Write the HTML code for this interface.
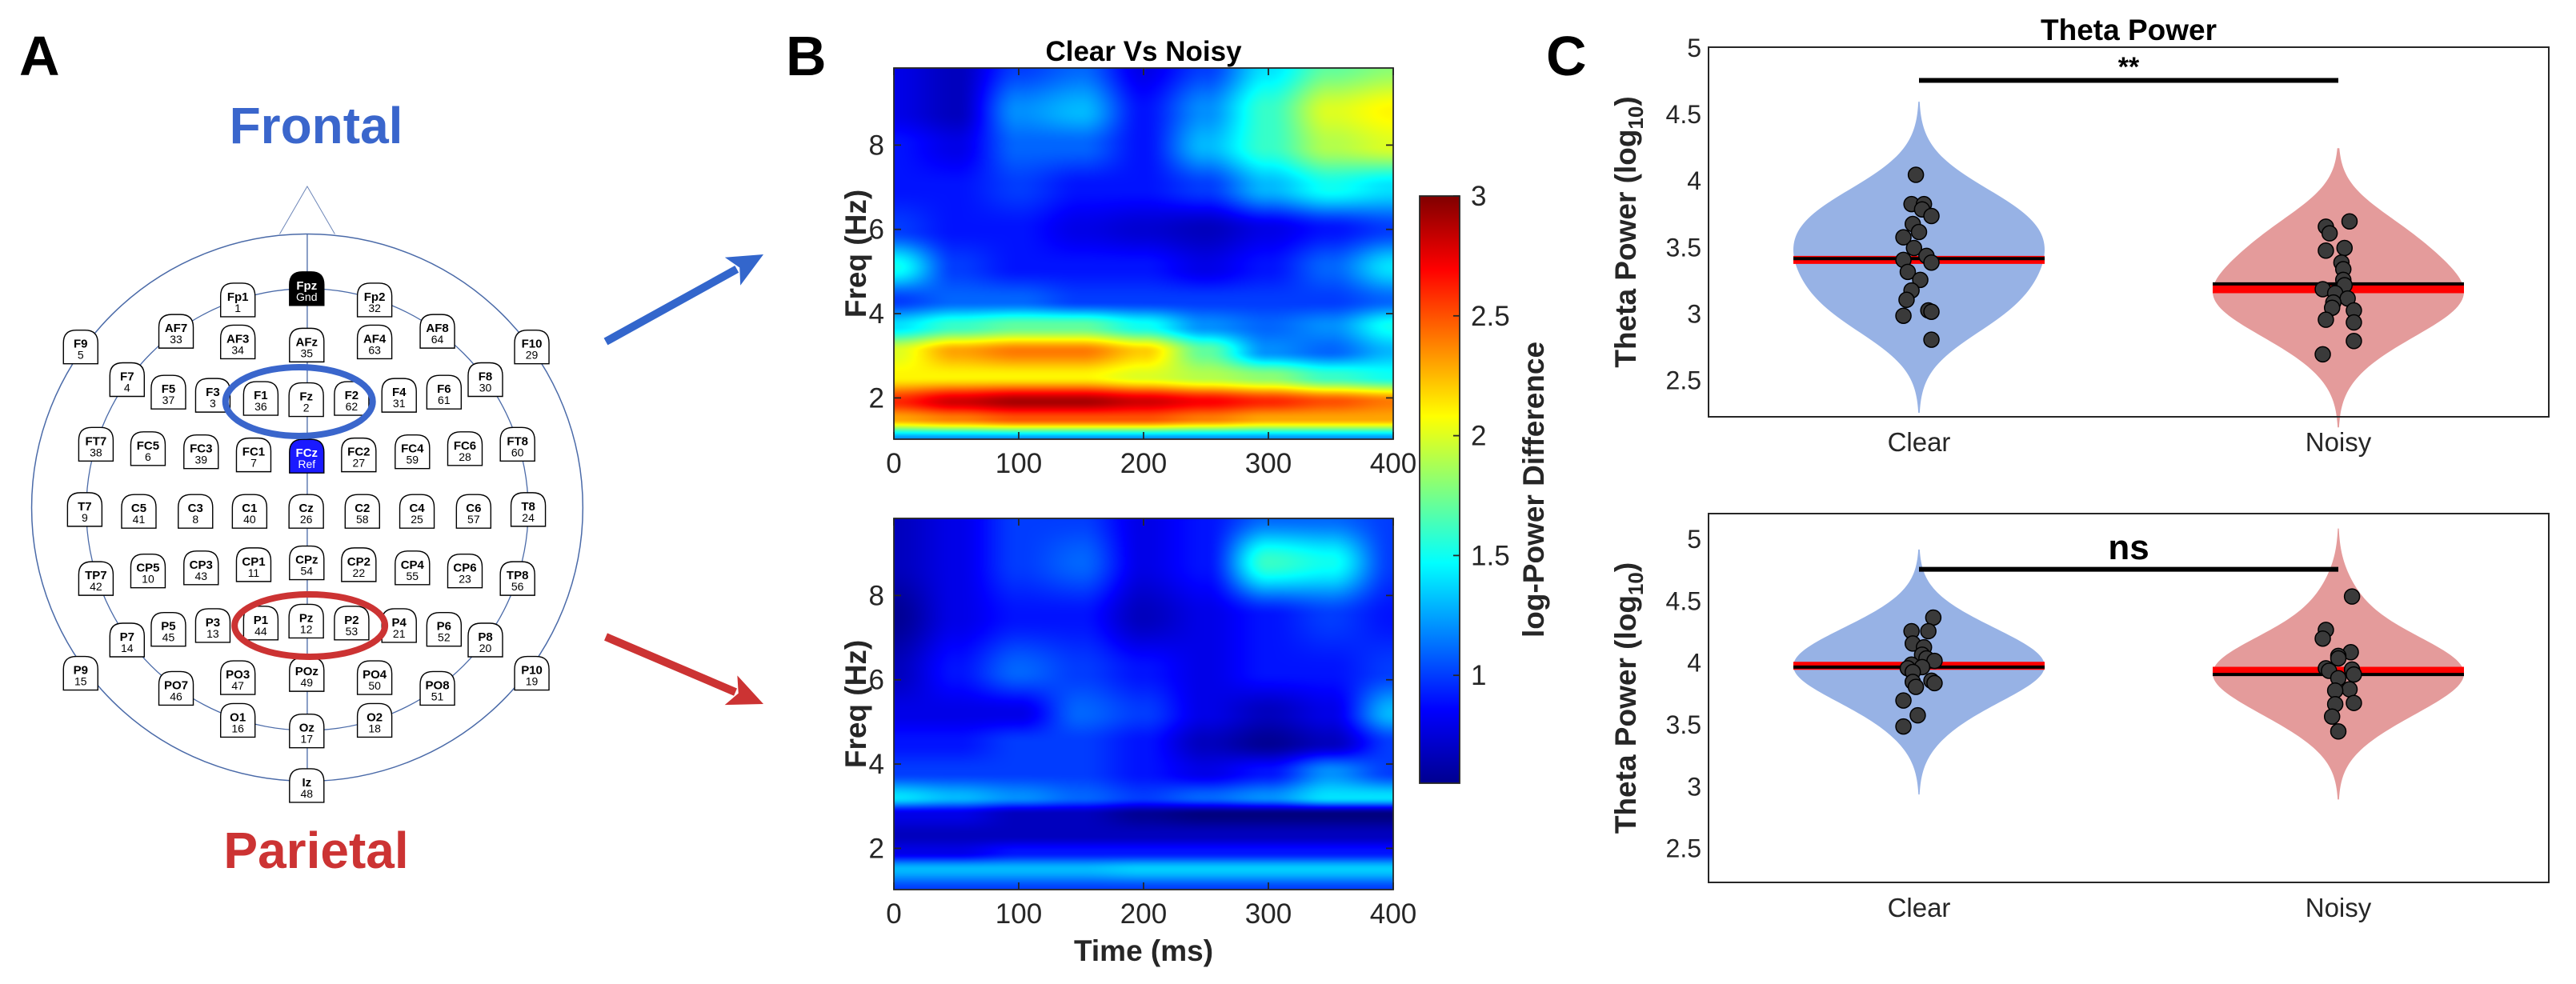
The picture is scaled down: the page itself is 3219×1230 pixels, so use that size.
<!DOCTYPE html>
<html><head><meta charset="utf-8">
<style>
html,body{margin:0;padding:0;background:#fff;}
#root{position:relative;width:3219px;height:1230px;overflow:hidden;font-family:"Liberation Sans",sans-serif;}
svg{position:absolute;left:0;top:0;}
canvas{position:absolute;}
</style></head>
<body>
<div id="root">
<canvas id="hmTop" style="left:1117px;top:85px" width="624" height="464"></canvas>
<canvas id="hmBot" style="left:1117px;top:648px" width="624" height="464"></canvas>
<svg id="svg" width="3219" height="1230" xmlns="http://www.w3.org/2000/svg">
<defs>
<linearGradient id="jet" x1="0" y1="1" x2="0" y2="0">
<stop offset="0" stop-color="#00008f"/><stop offset="0.125" stop-color="#0000ff"/><stop offset="0.375" stop-color="#00ffff"/><stop offset="0.625" stop-color="#ffff00"/><stop offset="0.875" stop-color="#ff0000"/><stop offset="1" stop-color="#800000"/>
</linearGradient>
</defs>
<g id="panelA"></g>
<g id="panelB"></g>
<g id="panelC"></g>
</svg>
</div>
<script>
// ---------- Panel B data ----------
const hmTimes = [0,50,100,150,200,250,300,350,400];
const hmFreqsTop = [1.0,1.5,1.9,2.5,3.1,3.7,4.3,5.1,6,7,8,8.8,9.9];
const hmTopRows = [
[1.2,1.2,1.2,1.2,1.2,1.2,1.2,1.2,1.2],
[2.3,2.4,2.5,2.5,2.5,2.4,2.3,2.3,2.3],
[2.6,2.8,2.9,2.9,2.8,2.7,2.6,2.5,2.4],
[2.1,2.1,2.1,2.1,2.0,1.9,1.8,1.6,1.5],
[2.0,2.3,2.4,2.4,2.2,1.7,1.2,1.1,1.3],
[1.4,1.6,1.7,1.7,1.5,1.2,1.1,1.2,1.5],
[1.0,1.1,1.1,1.0,1.0,1.0,1.0,1.0,1.1],
[1.5,1.0,0.9,0.9,0.9,0.8,0.9,1.1,1.4],
[1.0,0.9,0.9,0.8,0.75,0.7,0.8,0.9,1.0],
[0.9,0.9,1.0,0.9,0.9,1.0,1.3,1.5,1.4],
[0.9,0.8,1.1,1.1,0.9,1.3,1.6,1.9,2.0],
[0.8,0.7,1.2,1.3,0.9,1.2,1.6,2.0,2.1],
[0.8,0.7,1.0,1.1,0.8,1.0,1.4,1.7,1.8]];
const hmFreqsBot = [1.0,1.5,1.9,2.3,2.8,3.2,3.8,4.5,5.2,6.2,7.5,8.8,9.9];
const hmBotRows = [
[1.0,1.0,1.0,1.0,1.0,1.0,1.0,1.0,1.0],
[1.3,1.3,1.3,1.3,1.35,1.35,1.35,1.35,1.35],
[0.8,0.8,0.9,0.9,0.9,0.9,0.9,0.9,0.9],
[0.7,0.7,0.7,0.7,0.7,0.7,0.7,0.7,0.7],
[0.8,0.8,0.7,0.7,0.6,0.55,0.55,0.55,0.55],
[1.4,1.3,1.2,1.1,1.0,1.1,1.2,1.4,1.4],
[1.0,1.0,1.0,1.0,0.9,0.8,0.9,1.2,1.0],
[0.9,0.9,1.0,1.0,0.9,0.7,0.6,0.7,1.0],
[0.8,0.8,0.8,1.1,1.0,0.8,0.7,0.8,1.3],
[0.7,0.9,1.1,1.0,0.9,0.8,0.9,0.9,1.0],
[0.6,0.8,0.9,0.9,0.7,0.8,0.9,1.0,0.9],
[0.7,0.8,1.0,1.1,0.8,0.9,1.6,1.5,1.0],
[0.7,0.8,1.0,1.0,0.8,0.9,1.1,1.1,1.0]];
const timeTicks = [0,100,200,300,400];
const freqTicks = [2,4,6,8];
const cbTicks = [1,1.5,2,2.5,3];

// ---------- Panel C data ----------
const categories = ["Clear","Noisy"];
const yTicksC = [2.5,3,3.5,4,4.5,5];
const clearTop = [4.04,3.82,3.82,3.78,3.73,3.67,3.61,3.57,3.49,3.43,3.40,3.38,3.31,3.25,3.17,3.10,3.02,3.01,2.98,2.80];
const clearTopJit = [-5,-12,8,5,20,-10,0,-25,-8,12,-25,20,-18,2,-12,-20,15,20,-25,20];
const noisyTop = [3.69,3.65,3.60,3.49,3.47,3.38,3.33,3.25,3.21,3.18,3.15,3.11,3.08,3.04,3.02,2.95,2.93,2.79,2.69];
const noisyTopJit = [18,-20,-14,10,-20,5,8,8,10,-25,-5,15,-8,-10,25,-20,25,25,-25];
const clearBot = [4.36,4.25,4.25,4.15,4.12,4.06,4.03,4.01,3.98,3.96,3.95,3.92,3.85,3.84,3.83,3.80,3.69,3.57,3.48];
const clearBotJit = [23,-12,15,-10,8,5,12,25,-12,5,-18,-10,20,-10,25,-5,-25,-2,-25];
const noisyBot = [4.53,4.26,4.19,4.08,4.05,4.03,3.95,3.94,3.93,3.90,3.87,3.78,3.77,3.67,3.66,3.56,3.44];
const noisyBotJit = [22,-20,-25,20,0,0,-20,22,-15,25,0,18,-5,25,-5,-10,0];
const meansTop = [3.40,3.18];   // red
const mediansTop = [3.41,3.22]; // black
const meansBot = [3.97,3.93];
const mediansBot = [3.96,3.90];
const sigBar = [4.75,4.75];
const sigLabels = ["**","ns"];

// ---------- Panel A data ----------
const electrodes = [
["Fpz","Gnd",601,460],["Fp1","1",466,478],["Fp2","32",734,478],
["AF7","33",345,528],["AF3","34",466,545],["AFz","35",601,550],["AF4","63",734,545],["AF8","64",857,528],
["F9","5",158,553],["F10","29",1042,553],
["F7","4",249,605],["F5","37",330,625],["F3","3",417,630],["F1","36",511,635],["Fz","2",600,637],["F2","62",689,635],["F4","31",782,630],["F6","61",870,625],["F8","30",951,605],
["FT7","38",188,708],["FC5","6",290,715],["FC3","39",394,720],["FC1","7",497,725],["FCz","Ref",601,727],["FC2","27",703,725],["FC4","59",808,720],["FC6","28",911,715],["FT8","60",1014,708],
["T7","9",166,812],["C5","41",272,815],["C3","8",383,815],["C1","40",489,815],["Cz","26",600,815],["C2","58",710,815],["C4","25",817,815],["C6","57",928,815],["T8","24",1035,812],
["TP7","42",188,922],["CP5","10",290,910],["CP3","43",394,905],["CP1","11",497,900],["CPz","54",601,897],["CP2","22",703,900],["CP4","55",808,905],["CP6","23",911,910],["TP8","56",1014,922],
["P7","14",249,1020],["P5","45",330,1003],["P3","13",417,997],["P1","44",511,993],["Pz","12",600,990],["P2","53",689,993],["P4","21",782,997],["P6","52",870,1003],["P8","20",951,1020],
["P9","15",158,1073],["P10","19",1042,1073],
["PO7","46",345,1097],["PO3","47",466,1080],["POz","49",601,1075],["PO4","50",734,1080],["PO8","51",857,1097],
["O1","16",466,1148],["Oz","17",601,1165],["O2","18",734,1148],
["Iz","48",601,1252]];

const NS="http://www.w3.org/2000/svg";
function mk(parent, tag, attrs, text){
  const e=document.createElementNS(NS,tag);
  for(const k in attrs) e.setAttribute(k,attrs[k]);
  if(text!==undefined) e.textContent=text;
  parent.appendChild(e); return e;
}
const A=document.getElementById('panelA'), B=document.getElementById('panelB'), C=document.getElementById('panelC');
const SVG=document.getElementById('svg');

// ----- Panel letters
[["A",24,94],["B",982,94],["C",1932,94]].forEach(([t,x,y])=>{
  const e=mk(SVG,'text',{x:x,y:y,'font-size':70,'font-weight':'bold','font-family':'Liberation Sans, sans-serif'},t);
  
  
});

// ----- Panel A
const s=1/1.568, sy=1/1.275;
let t=mk(A,'text',{x:395,y:179,'text-anchor':'middle','font-size':64,'font-weight':'bold',fill:'#3a66cc'},'Frontal');
 
t=mk(A,'text',{x:395,y:1085,'text-anchor':'middle','font-size':64,'font-weight':'bold',fill:'#cc3333'},'Parietal');
 
let h=mk(A,'polyline',{points:`${548*s},${373*sy} ${602*s},${297*sy} ${656*s},${373*sy}`,fill:'none',stroke:'#6d86b8','stroke-width':1});
 
h=mk(A,'ellipse',{cx:602*s,cy:809*sy,rx:540*s,ry:436*sy,fill:'none',stroke:'#4a6aa8','stroke-width':1.5});
 
h=mk(A,'ellipse',{cx:602*s,cy:812*sy,rx:433*s,ry:352*sy,fill:'none',stroke:'#4a6aa8','stroke-width':1.3});
 
h=mk(A,'line',{x1:602*s,y1:373*sy,x2:602*s,y2:1245*sy,stroke:'#4a6aa8','stroke-width':1.3});
 
electrodes.forEach(([lab,num,x,y])=>{
  const cx=x*s, cy=y*sy, w=43, hh=42, r=16;
  const g=mk(A,'g',{});
  
  
  const fill = lab==='Fpz'?'#000':(lab==='FCz'?'#1a1aff':'#fff');
  const tc = (lab==='Fpz'||lab==='FCz')?'#fff':'#000';
  const x0=cx-w/2, y0=cy-hh/2;
  mk(g,'path',{d:`M${x0},${y0+hh} L${x0},${y0+r} Q${x0},${y0} ${x0+r},${y0} L${x0+w-r},${y0} Q${x0+w},${y0} ${x0+w},${y0+r} L${x0+w},${y0+hh} Z`,fill:fill,stroke:'#000','stroke-width':1.4});
  mk(g,'text',{x:cx,y:cy+1,'text-anchor':'middle','font-size':15,'font-weight':'bold',fill:tc},lab);
  mk(g,'text',{x:cx,y:cy+15,'text-anchor':'middle','font-size':14,fill:tc},num);
});
h=mk(A,'ellipse',{cx:586*s,cy:640*sy,rx:92,ry:43,fill:'none',stroke:'#3a66cc','stroke-width':8});
 
h=mk(A,'ellipse',{cx:607*s,cy:997*sy,rx:94,ry:39,fill:'none',stroke:'#cc3333','stroke-width':8});
 
function arrow(x1,y1,x2,y2,col,name){
  const g=mk(A,'g',{});
   
  const ang=Math.atan2(y2-y1,x2-x1), L=44, W=20;
  const bx=x2-L*Math.cos(ang), by=y2-L*Math.sin(ang);
  mk(g,'line',{x1:x1,y1:y1,x2:bx+6*Math.cos(ang),y2:by+6*Math.sin(ang),stroke:col,'stroke-width':10});
  const px=-Math.sin(ang), py=Math.cos(ang);
  mk(g,'polygon',{points:`${x2},${y2} ${bx+px*W},${by+py*W} ${bx+10*Math.cos(ang)},${by+10*Math.sin(ang)} ${bx-px*W},${by-py*W}`,fill:col});
}
arrow(757,427,954,318,'#3366cc','frontal-arrow');
arrow(757,796,954,880,'#cc3333','parietal-arrow');

// ----- Panel B
function jet(v){
  const t=Math.max(0,Math.min(1,(v-0.55)/(3-0.55)));
  const f=(x)=>Math.max(0,Math.min(1,x));
  const r=f(1.5-Math.abs(4*t-3)), g=f(1.5-Math.abs(4*t-2)), b=f(1.5-Math.abs(4*t-1));
  return [r*255,g*255,b*255];
}
const fMin=1.02, fMax=9.83, tMin=0, tMax=400;
function interp(freqs,rows,tm,fr){
  let i=0; while(i<freqs.length-2 && fr>freqs[i+1]) i++;
  let a=(fr-freqs[i])/(freqs[i+1]-freqs[i]); a=Math.max(0,Math.min(1,a));
  a=a*a*(3-2*a);
  let j=0; while(j<hmTimes.length-2 && tm>hmTimes[j+1]) j++;
  let b=(tm-hmTimes[j])/(hmTimes[j+1]-hmTimes[j]); b=Math.max(0,Math.min(1,b));
  b=b*b*(3-2*b);
  const v00=rows[i][j],v01=rows[i][j+1],v10=rows[i+1][j],v11=rows[i+1][j+1];
  return (v00*(1-b)+v01*b)*(1-a)+(v10*(1-b)+v11*b)*a;
}
function drawHM(id,freqs,rows){
  const cv=document.getElementById(id), ctx=cv.getContext('2d');
  const W=cv.width,H=cv.height, img=ctx.createImageData(W,H);
  for(let y=0;y<H;y++){
    const fr=fMax-(y/(H-1))*(fMax-fMin);
    for(let x=0;x<W;x++){
      const tm=tMin+(x/(W-1))*(tMax-tMin);
      const c=jet(interp(freqs,rows,tm,fr));
      const k=(y*W+x)*4; img.data[k]=c[0];img.data[k+1]=c[1];img.data[k+2]=c[2];img.data[k+3]=255;
    }
  }
  ctx.putImageData(img,0,0);
}
drawHM('hmTop',hmFreqsTop,hmTopRows);
drawHM('hmBot',hmFreqsBot,hmBotRows);
const bx0=1117,bx1=1741;
const xT=(v)=>bx0+(v-tMin)/(tMax-tMin)*(bx1-bx0);
function axesB(y0,y1,name){
  const g=mk(B,'g',{});
   
  const yF=(f)=>y1-(f-fMin)/(fMax-fMin)*(y1-y0);
  mk(g,'rect',{x:bx0,y:y0,width:bx1-bx0,height:y1-y0,fill:'none',stroke:'#262626','stroke-width':1.8});
  timeTicks.forEach(v=>{
    mk(g,'line',{x1:xT(v),y1:y1,x2:xT(v),y2:y1-9,stroke:'#262626','stroke-width':1.8});
    mk(g,'line',{x1:xT(v),y1:y0,x2:xT(v),y2:y0+9,stroke:'#262626','stroke-width':1.8});
    const l=mk(g,'text',{x:xT(v),y:y1+42,'text-anchor':'middle','font-size':35,fill:'#262626'},v);
     
  });
  freqTicks.forEach(v=>{
    mk(g,'line',{x1:bx0,y1:yF(v),x2:bx0+9,y2:yF(v),stroke:'#262626','stroke-width':1.8});
    mk(g,'line',{x1:bx1,y1:yF(v),x2:bx1-9,y2:yF(v),stroke:'#262626','stroke-width':1.8});
    const l=mk(g,'text',{x:bx0-12,y:yF(v)+12,'text-anchor':'end','font-size':35,fill:'#262626'},v);
     
  });
  const yl=mk(g,'text',{x:0,y:0,transform:`translate(1082,${(y0+y1)/2}) rotate(-90)`,'text-anchor':'middle','font-size':37,'font-weight':'bold',fill:'#262626'},'Freq (Hz)');
   
}
axesB(85,549,'heatmap-top-axes');
axesB(648,1112,'heatmap-bottom-axes');
t=mk(B,'text',{x:1429,y:76,'text-anchor':'middle','font-size':35,'font-weight':'bold'},'Clear Vs Noisy');
 
t=mk(B,'text',{x:1429,y:1201,'text-anchor':'middle','font-size':37,'font-weight':'bold',fill:'#262626'},'Time (ms)');
 
// colorbar
const cbx=1774,cbw=50,cby0=245,cby1=979,cbMin=0.55,cbMax=3;
const yC=(v)=>cby1-(v-cbMin)/(cbMax-cbMin)*(cby1-cby0);
t=mk(B,'rect',{x:cbx,y:cby0,width:cbw,height:cby1-cby0,fill:'url(#jet)',stroke:'#262626','stroke-width':1.8});
 
cbTicks.forEach(v=>{
  mk(B,'line',{x1:cbx+cbw,y1:yC(v),x2:cbx+cbw-8,y2:yC(v),stroke:'#262626','stroke-width':1.8});
  const l=mk(B,'text',{x:cbx+cbw+14,y:yC(v)+12,'font-size':35,fill:'#262626'},v);
   
});
t=mk(B,'text',{x:0,y:0,transform:'translate(1929,612) rotate(-90)','text-anchor':'middle','font-size':37,'font-weight':'bold',fill:'#262626'},'log-Power Difference');
 

// ----- Panel C
const cx0=2135,cx1=3185;
const catX=[2398,2922];
function kde(vals,y,bw){let s=0;vals.forEach(v=>{const z=(y-v)/bw;s+=Math.exp(-0.5*z*z);});return s;}
function violinPanel(y0,y1,vMin,vMax,datasets,jits,means,meds,name,sig,sigLbl,sigSize,sigY,title){
  const g=mk(C,'g',{});
   
  const yV=(v)=>y1-(v-vMin)/(vMax-vMin)*(y1-y0);
  const cols=['#97b2e5','#e49b9b'];
  datasets.forEach((d,k)=>{
    const bw=0.22, lo=Math.min(...d)-2.5*bw, hi=Math.max(...d)+2.5*bw;
    const N=120, dens=[];
    let mx=0;
    for(let i=0;i<=N;i++){const v=lo+(hi-lo)*i/N; const dv=kde(d,v,bw); dens.push([v,dv]); if(dv>mx) mx=dv;}
    const half=157;
    const left=dens.map(([v,dv])=>`${catX[k]-dv/mx*half},${yV(v)}`);
    const right=dens.slice().reverse().map(([v,dv])=>`${catX[k]+dv/mx*half},${yV(v)}`);
    const p=mk(g,'polygon',{points:left.concat(right).join(' '),fill:cols[k]});
    
    
    const ml=mk(g,'line',{x1:catX[k]-157,x2:catX[k]+157,y1:yV(means[k]),y2:yV(means[k]),stroke:'#ff0000','stroke-width':10});
     
    const md=mk(g,'line',{x1:catX[k]-157,x2:catX[k]+157,y1:yV(meds[k]),y2:yV(meds[k]),stroke:'#000','stroke-width':4});
     
  });
  datasets.forEach((d,k)=>{
    d.forEach((v,i)=>{
      const c=mk(g,'circle',{cx:catX[k]+jits[k][i]/1.286,cy:yV(v),r:9.5,fill:'#3a3a3a',stroke:'#000','stroke-width':1.5});
       
    });
  });
  const sb=mk(g,'line',{x1:catX[0],x2:catX[1],y1:yV(sig),y2:yV(sig),stroke:'#000','stroke-width':6});
   
  const sl=mk(g,'text',{x:(catX[0]+catX[1])/2,y:sigY,'text-anchor':'middle','font-size':sigSize,'font-weight':'bold'},sigLbl);
   
  mk(g,'rect',{x:cx0,y:y0,width:cx1-cx0,height:y1-y0,fill:'none',stroke:'#262626','stroke-width':2});
  yTicksC.forEach(v=>{
    const l=mk(g,'text',{x:2126,y:yV(v)+12,'text-anchor':'end','font-size':32,fill:'#262626'},v);
     
  });
  categories.forEach((c,k)=>{
    const l=mk(g,'text',{x:catX[k],y:y1+43,'text-anchor':'middle','font-size':33,fill:'#262626'},c);
     
  });
  const yl=mk(g,'text',{x:0,y:0,transform:`translate(2044,${(y0+y1)/2}) rotate(-90)`,'text-anchor':'middle','font-size':37,'font-weight':'bold',fill:'#262626'});
   
  mk(yl,'tspan',{},'Theta Power (log');
  mk(yl,'tspan',{'font-size':26,dy:9},'10');
  mk(yl,'tspan',{dy:-9},')');
  if(title){
    const tt=mk(g,'text',{x:(cx0+cx1)/2,y:50,'text-anchor':'middle','font-size':37,'font-weight':'bold'},title);
     
  }
}
violinPanel(59,521,2.22,5,[clearTop,noisyTop],[clearTopJit,noisyTopJit],meansTop,mediansTop,'violin-top-frontal',sigBar[0],sigLabels[0],34,95,'Theta Power');
violinPanel(642,1103,2.22,5.2,[clearBot,noisyBot],[clearBotJit,noisyBotJit],meansBot,mediansBot,'violin-bottom-parietal',sigBar[1],sigLabels[1],44,699,null);
</script>
</body></html>
